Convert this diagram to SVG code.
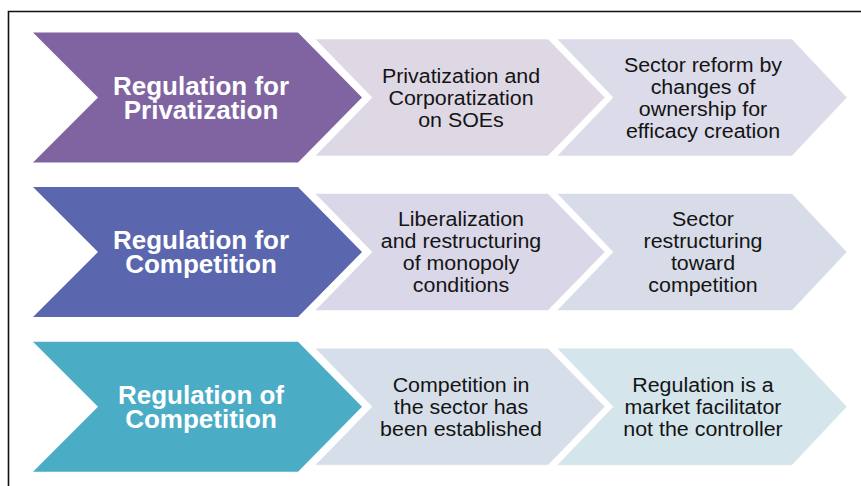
<svg xmlns="http://www.w3.org/2000/svg" xmlns:xlink="http://www.w3.org/1999/xlink" width="861" height="486" viewBox="0 0 861 486">
<style>
.big{font-family:"Liberation Sans",Arial,sans-serif;font-weight:bold;font-size:25px;fill:#ffffff;text-anchor:middle}
.sm{font-family:"Liberation Sans",Arial,sans-serif;font-size:20px;fill:#141414;text-anchor:middle}
.soft{stroke:#ffffff;stroke-opacity:0.55;stroke-width:1}
</style>
<defs>
<path id="bigc" d="M33,-65 L298,-65 L362,0 L298,65 L33,65 L98,0 Z"/>
<path id="c2" d="M315,-58.5 L548,-58.5 L605,0 L548,58.5 L315,58.5 L372,0 Z"/>
<path id="c3" d="M557,-58.5 L792,-58.5 L847,0 L792,58.5 L557,58.5 L613,0 Z"/>
</defs>
<rect width="861" height="486" fill="#ffffff"/>
<path d="M8.5,486 L8.5,11.5 L861,11.5" fill="none" stroke="#111111" stroke-width="1.6"/>
<g id="connectors"/>

<g id="row1" transform="translate(0,97.5)">
<g id="n1a">
<use xlink:href="#bigc" fill="#8064A2"/>
<text class="big" transform="translate(201,0) scale(1.04,1)"><tspan x="0" y="-3">Regulation for</tspan><tspan x="0" y="21">Privatization</tspan></text>
</g>
<g id="n1b">
<use xlink:href="#c2" fill="#DED8E5" class="soft"/>
<text class="sm" transform="translate(461,0) scale(1.07,1)"><tspan x="0" y="-14.85">Privatization and</tspan><tspan x="0" y="7.15">Corporatization</tspan><tspan x="0" y="29.15">on SOEs</tspan></text>
</g>
<g id="n1c">
<use xlink:href="#c3" fill="#DCDBE9" class="soft"/>
<text class="sm" transform="translate(703,0) scale(1.07,1)"><tspan x="0" y="-25.85">Sector reform by</tspan><tspan x="0" y="-3.85">changes of</tspan><tspan x="0" y="18.15">ownership for</tspan><tspan x="0" y="40.15">efficacy creation</tspan></text>
</g>
</g>

<g id="row2" transform="translate(0,252)">
<g id="n2a">
<use xlink:href="#bigc" fill="#5A66AE"/>
<text class="big" transform="translate(201,0) scale(1.04,1)"><tspan x="0" y="-3">Regulation for</tspan><tspan x="0" y="21">Competition</tspan></text>
</g>
<g id="n2b">
<use xlink:href="#c2" fill="#DAD7E8" class="soft"/>
<text class="sm" transform="translate(461,0) scale(1.07,1)"><tspan x="0" y="-25.85">Liberalization</tspan><tspan x="0" y="-3.85">and restructuring</tspan><tspan x="0" y="18.15">of monopoly</tspan><tspan x="0" y="40.15">conditions</tspan></text>
</g>
<g id="n2c">
<use xlink:href="#c3" fill="#D8DCE8" class="soft"/>
<text class="sm" transform="translate(703,0) scale(1.07,1)"><tspan x="0" y="-25.85">Sector</tspan><tspan x="0" y="-3.85">restructuring</tspan><tspan x="0" y="18.15">toward</tspan><tspan x="0" y="40.15">competition</tspan></text>
</g>
</g>

<g id="row3" transform="translate(0,406.7)">
<g id="n3a">
<use xlink:href="#bigc" fill="#4BACC6"/>
<text class="big" transform="translate(201,0) scale(1.04,1)"><tspan x="0" y="-3">Regulation of</tspan><tspan x="0" y="21">Competition</tspan></text>
</g>
<g id="n3b">
<use xlink:href="#c2" fill="#D6DFE9" class="soft"/>
<text class="sm" transform="translate(461,0) scale(1.07,1)"><tspan x="0" y="-14.85">Competition in</tspan><tspan x="0" y="7.15">the sector has</tspan><tspan x="0" y="29.15">been established</tspan></text>
</g>
<g id="n3c">
<use xlink:href="#c3" fill="#D4E5EC" class="soft"/>
<text class="sm" transform="translate(703,0) scale(1.07,1)"><tspan x="0" y="-14.85">Regulation is a</tspan><tspan x="0" y="7.15">market facilitator</tspan><tspan x="0" y="29.15">not the controller</tspan></text>
</g>
</g>
</svg>
